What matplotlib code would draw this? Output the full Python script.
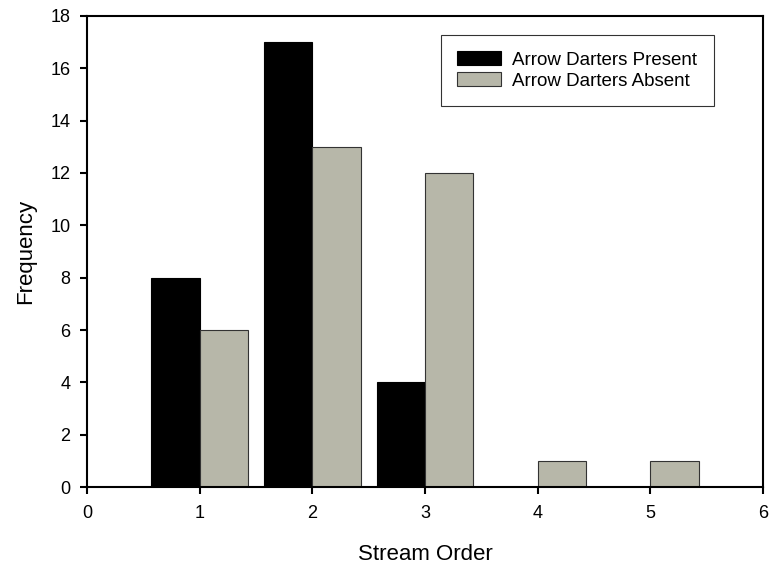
import numpy as np
import matplotlib
matplotlib.use('Agg')
import matplotlib.pyplot as plt

#==================================================================
#                         data
#==================================================================
stream_order = np.array([1, 2, 3, 4, 5])
present = np.array([8, 17, 4, 0, 0])
absent = np.array([6, 13, 12, 1, 1])

plt.rcParams['font.family'] = ['Liberation Sans', 'DejaVu Sans']

fig = plt.figure(figsize=(7.71, 5.69), dpi=100)
ax = fig.add_axes([0.1128, 0.1441, 0.8768, 0.8278])

width = 0.43
ax.bar(stream_order - width / 2, present, width, color='black',
       edgecolor='black', linewidth=0.8, label='Arrow Darters Present')
ax.bar(stream_order + width / 2, absent, width, color='#b7b7a9',
       edgecolor='#333333', linewidth=0.8, label='Arrow Darters Absent')

#------------------------------------------------------------------
ax.set_xlim(0, 6)
ax.set_ylim(0, 18)
ax.set_xticks(range(0, 7))
ax.set_yticks(range(0, 19, 2))
ax.tick_params(axis='x', pad=8)
ax.tick_params(axis='y', pad=7)
ax.tick_params(which='major', direction='out', width=1.5, length=5,
               labelsize=13, top=False, right=False)
for s in ax.spines.values():
    s.set_linewidth(1.5)

ax.set_xlabel('Stream Order', fontsize=16, labelpad=16)
ax.set_ylabel('Frequency', fontsize=16, labelpad=10)

lg = ax.legend(loc='upper right', bbox_to_anchor=(0.926, 0.9385),
               bbox_transform=fig.transFigure, borderaxespad=0,
               fontsize=13.5, frameon=True, fancybox=False,
               edgecolor='black', handlelength=2.35, handleheight=0.75,
               handletextpad=0.6, borderpad=0.88, labelspacing=0.18)
lg.get_frame().set_linewidth(0.8)

plt.savefig('out.png', dpi=100)
